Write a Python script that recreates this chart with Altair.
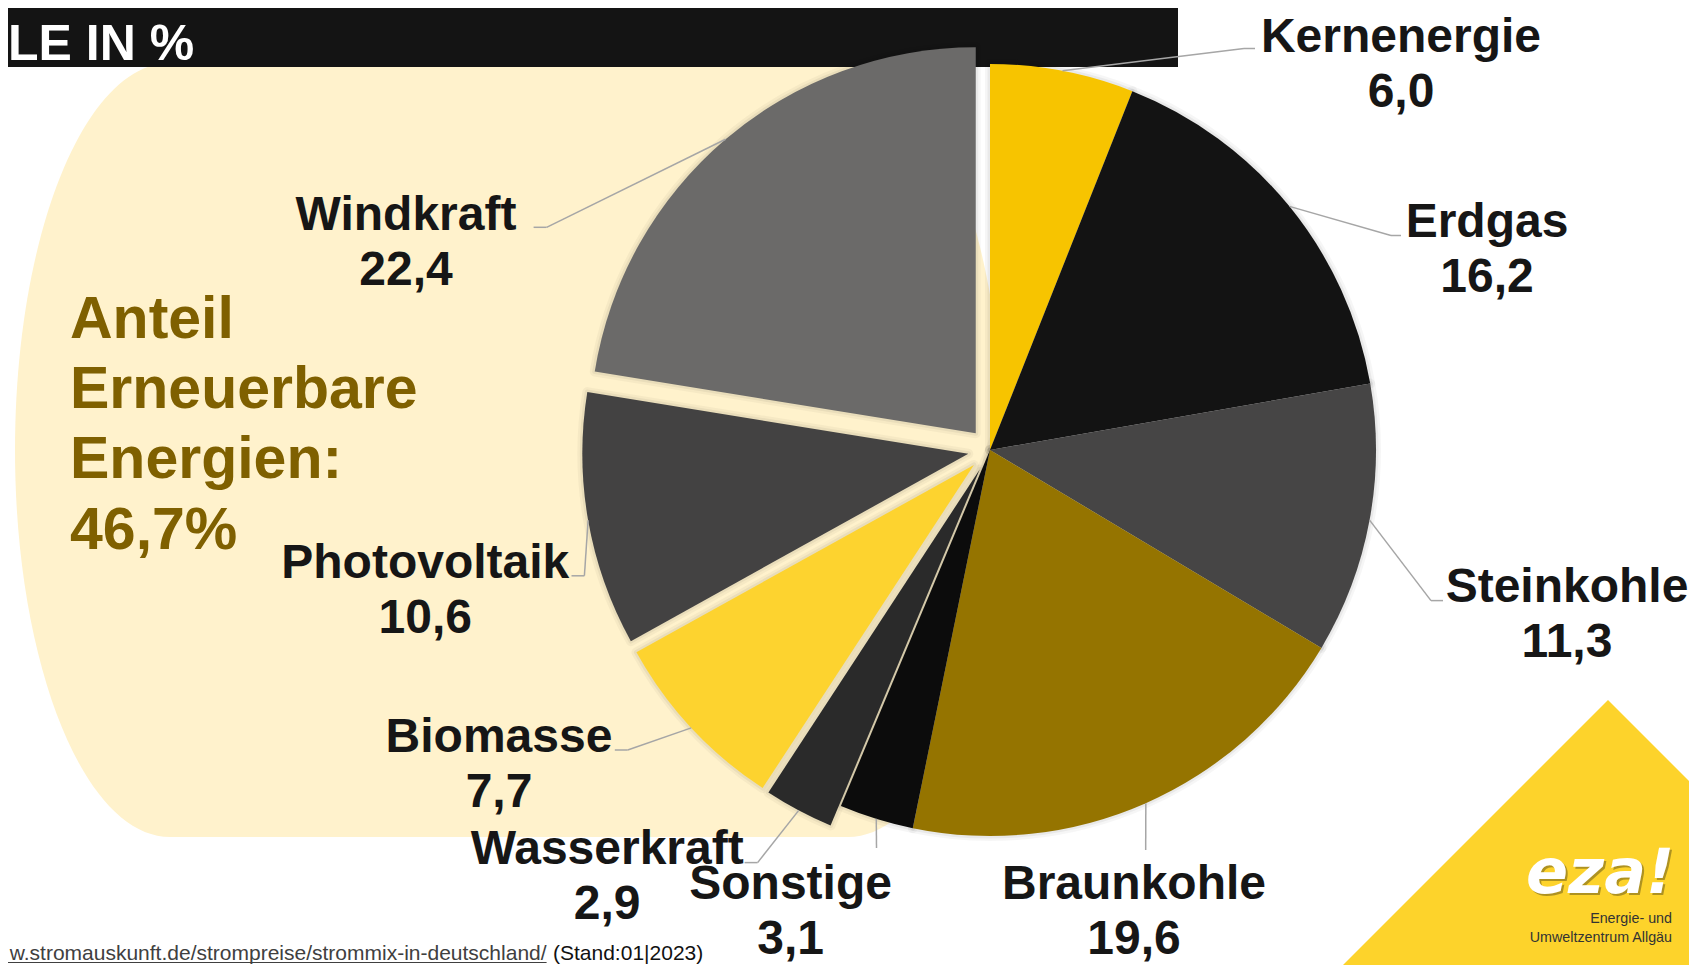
import altair as alt
import pandas as pd

# ---------------- data ----------------
categories = ["Kernenergie", "Erdgas", "Steinkohle", "Braunkohle", "Sonstige",
              "Wasserkraft", "Biomasse", "Photovoltaik", "Windkraft"]
shares = [6.0, 16.2, 11.3, 19.6, 3.1, 2.9, 7.7, 10.6, 22.4]
renewable = [0, 0, 0, 0, 0, 1, 1, 1, 1]
slice_colors = ["#F7C400", "#131313", "#464545", "#957400", "#0C0C0C",
                "#2A2A2A", "#FDD32F", "#434242", "#6B6A69"]

# ---------------- layout (page pixels) ----------------
OFF = 8                      # page margin
W, H = 1681, 957
CX, CY = 990 - OFF, 450 - OFF
R = 386
EXPLODE = 22

label_layout = {
    "Kernenergie":  dict(lx=1401, ly=52.0, bx=1244, by=48.5, ex=1255),
    "Erdgas":       dict(lx=1487, ly=237.0, bx=1391, by=235.5, ex=1401),
    "Steinkohle":   dict(lx=1567, ly=601.8, bx=1431, by=600.6, ex=1443),
    "Braunkohle":   dict(lx=1134, ly=899.0, bx=1145.7, by=850, ex=1145.7),
    "Sonstige":     dict(lx=790.6, ly=899.0, bx=876.5, by=848, ex=876.5),
    "Wasserkraft":  dict(lx=607.2, ly=863.7, bx=757.6, by=862.6, ex=744.6),
    "Biomasse":     dict(lx=499.0, ly=752.2, bx=627.7, by=750.0, ex=614.8),
    "Photovoltaik": dict(lx=425.3, ly=578.0, bx=584.4, by=575.8, ex=571.5),
    "Windkraft":    dict(lx=406.0, ly=229.5, bx=546.6, by=227.3, ex=533.6),
}

df = pd.DataFrame({"cat": categories, "value": shares, "renew": renewable,
                   "color": slice_colors, "order": list(range(len(categories)))})
for key in ["lx", "ly", "bx", "by", "ex"]:
    df[key] = [label_layout[c][key] - OFF for c in categories]

one = pd.DataFrame({"k": [0]})

LABEL_FONT = "Liberation Sans, Arial, sans-serif"

def X(f):
    return alt.X(f, type="quantitative", scale=None, axis=None)

def Y(f):
    return alt.Y(f, type="quantitative", scale=None, axis=None)

base = (
    alt.Chart(df)
    .transform_joinaggregate(total="sum(value)")
    .transform_window(cum="sum(value)", sort=[alt.SortField("order")], frame=[None, 0])
    .transform_calculate(a0="(datum.cum - datum.value) / datum.total * 2 * PI")
    .transform_calculate(a1="datum.cum / datum.total * 2 * PI")
    .transform_calculate(am="(datum.a0 + datum.a1) / 2")
    .transform_calculate(cx=f"{CX} + {EXPLODE} * datum.renew * sin(datum.am)")
    .transform_calculate(cy=f"{CY} - {EXPLODE} * datum.renew * cos(datum.am)")
    .transform_calculate(px=f"datum.cx + {R} * sin(datum.am)")
    .transform_calculate(py=f"datum.cy - {R} * cos(datum.am)")
    .transform_calculate(vlabel="replace(format(datum.value, '.1f'), '.', ',')")
)

# ---------------- decorations ----------------
cream_path = ("M0,-387 L678,-387 A155,387 0 0,1 678,387 "
              "L0,387 A155,387 0 0,1 0,-387 Z")
cream = alt.Chart(one).mark_point(
    shape=cream_path, size=4, filled=True, color="#FFF2CC", opacity=1, strokeWidth=0
).encode(x=alt.value(170 - OFF), y=alt.value(450 - OFF))

bar = alt.Chart(one).mark_rect(color="#141414").encode(
    x=alt.value(0), x2=alt.value(1178 - OFF), y=alt.value(0), y2=alt.value(67 - OFF))

header = alt.Chart(one).mark_text(
    text="LE IN %", font=LABEL_FONT, fontWeight="bold", fontSize=50,
    color="white", align="left", baseline="alphabetic"
).encode(x=alt.value(0), y=alt.value(59.5 - OFF))

# ---------------- pie ----------------
pie_enc = dict(x=X("cx"), y=Y("cy"),
               theta=alt.Theta("a0", type="quantitative", scale=None),
               theta2=alt.Theta2("a1"))

shadow1 = base.mark_arc(radius=R, fill="black", fillOpacity=0, stroke="black",
                        strokeWidth=10, strokeOpacity=0.035, strokeJoin="round").encode(**pie_enc)
shadow2 = base.mark_arc(radius=R, fill="black", fillOpacity=0, stroke="black",
                        strokeWidth=5, strokeOpacity=0.05, strokeJoin="round").encode(**pie_enc)
pie = base.mark_arc(radius=R).encode(color=alt.Color("color:N", scale=None), **pie_enc)

# ---------------- leader lines ----------------
lead1 = base.mark_rule(color="#A6A6A6", strokeWidth=1.5).encode(
    x=X("px"), y=Y("py"), x2=alt.X2("bx"), y2=alt.Y2("by"))
lead2 = base.mark_rule(color="#A6A6A6", strokeWidth=1.5).encode(
    x=X("bx"), y=Y("by"), x2=alt.X2("ex"), y2=alt.Y2("by"))

# ---------------- labels ----------------
names = base.mark_text(font=LABEL_FONT, fontWeight="bold", fontSize=48, color="#161616",
                       align="center", baseline="alphabetic").encode(
    x=X("lx"), y=Y("ly"), text="cat:N")
vals = base.mark_text(font=LABEL_FONT, fontWeight="bold", fontSize=48, color="#161616",
                      align="center", baseline="alphabetic", dy=55).encode(
    x=X("lx"), y=Y("ly"), text="vlabel:N")

anteil = alt.Chart(one).mark_text(
    text=["Anteil", "Erneuerbare", "Energien:", "46,7%"], lineHeight=70.3,
    font=LABEL_FONT, fontWeight="bold", fontSize=59, color="#7F6000",
    align="left", baseline="alphabetic"
).encode(x=alt.value(70 - OFF), y=alt.value(337.7 - OFF))

# ---------------- source ----------------
src_y = 952
url = alt.Chart(one).mark_text(
    text="w.stromauskunft.de/strompreise/strommix-in-deutschland/", font=LABEL_FONT,
    fontSize=21, color="#404040", align="right", baseline="alphabetic"
).encode(x=alt.value(546.6 - OFF), y=alt.value(src_y))
url_line = alt.Chart(one).mark_rule(color="#404040", strokeWidth=1.2).encode(
    x=alt.value(0), x2=alt.value(546.6 - OFF), y=alt.value(src_y + 2.5))
stand = alt.Chart(one).mark_text(
    text="(Stand:01|2023)", font=LABEL_FONT, fontSize=21, color="#111111",
    align="left", baseline="alphabetic"
).encode(x=alt.value(553 - OFF), y=alt.value(src_y))

# ---------------- logo ----------------
logo_sq = alt.Chart(one).mark_square(size=156800, angle=45, color="#FDD32B", opacity=1).encode(
    x=alt.value(1608 - OFF), y=alt.value(980 - OFF))
eza_shadow = alt.Chart(one).mark_text(
    text="eza!", font="DejaVu Sans, sans-serif", fontStyle="italic", fontWeight="bold",
    fontSize=62, color="#6E5E1A", opacity=0.55, align="left", baseline="alphabetic"
).encode(x=alt.value(1528 - OFF), y=alt.value(895 - OFF))
eza = alt.Chart(one).mark_text(
    text="eza!", font="DejaVu Sans, sans-serif", fontStyle="italic", fontWeight="bold",
    fontSize=62, color="white", align="left", baseline="alphabetic"
).encode(x=alt.value(1526 - OFF), y=alt.value(893 - OFF))
sub = alt.Chart(one).mark_text(
    text=["Energie- und", "Umweltzentrum Allgäu"], lineHeight=18.5,
    font=LABEL_FONT, fontSize=14.3, color="#333333", align="right", baseline="alphabetic"
).encode(x=alt.value(1672 - OFF), y=alt.value(923 - OFF))

chart = alt.layer(
    cream, bar, header, shadow1, shadow2, pie, lead1, lead2, names, vals, anteil,
    url, url_line, stand, logo_sq, eza_shadow, eza, sub
).properties(
    width=W, height=H, autosize="none", padding=0, background="white"
).configure_view(strokeWidth=0)

chart.save("out.html", embed_options={"renderer": "svg", "actions": False})
